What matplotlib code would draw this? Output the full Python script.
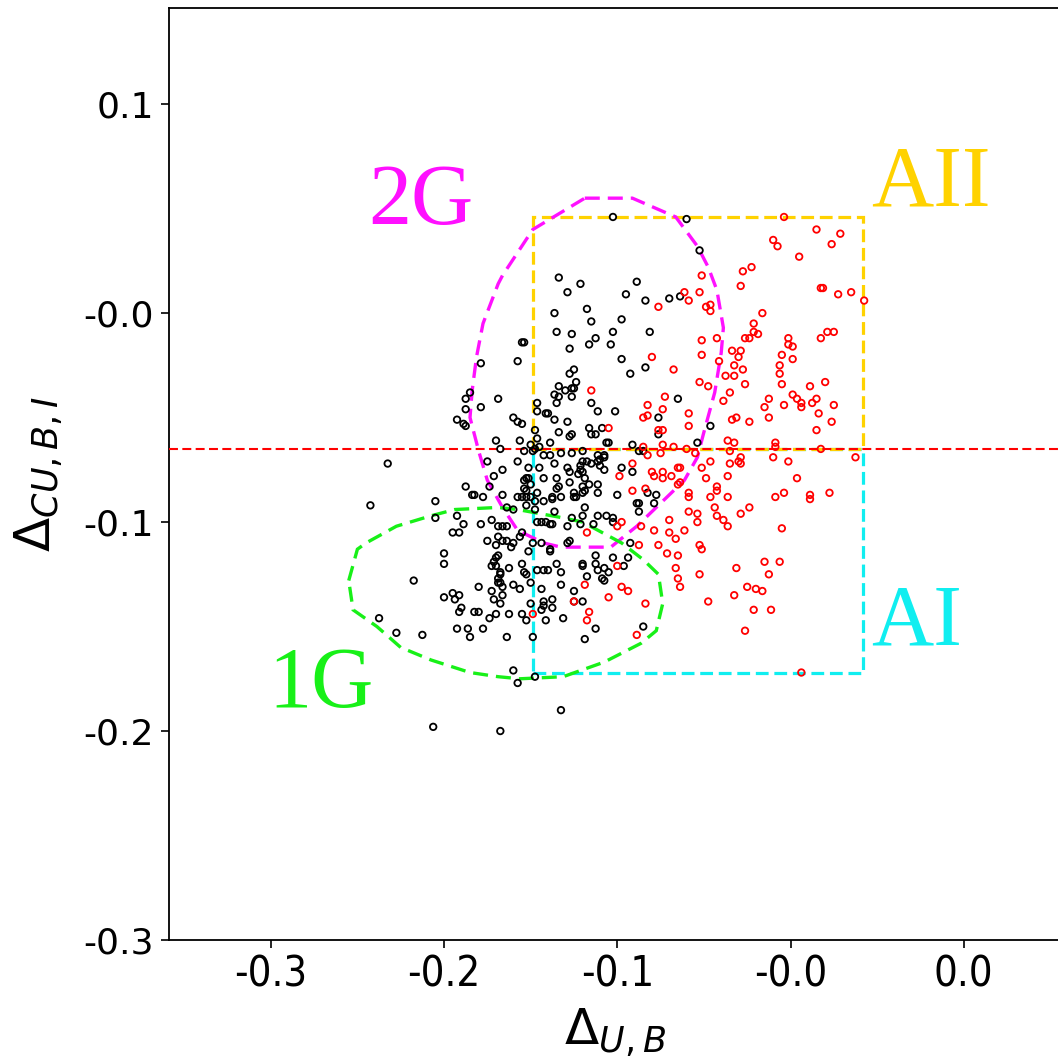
import matplotlib
matplotlib.use("Agg")
import matplotlib.pyplot as plt
from matplotlib.patches import Polygon, Rectangle

# ---- stars: first-generation / unclassified (black) ----
black_pts = [
    (-0.147, 0.017), (-0.137, 0.014), (-0.143, 0.010), (-0.149, 0.000), (-0.134, 0.002),
    (-0.132, -0.004), (-0.148, -0.009), (-0.141, -0.010), (-0.130, -0.012), (-0.133, -0.015),
    (-0.142, -0.017), (-0.164, -0.014), (-0.163, -0.014), (-0.183, -0.024), (-0.166, -0.023),
    (-0.140, -0.027), (-0.142, -0.029), (-0.139, -0.033), (-0.147, -0.035), (-0.122, 0.046),
    (-0.088, 0.045), (-0.082, 0.030), (-0.111, 0.015), (-0.116, 0.009), (-0.107, 0.006),
    (-0.096, 0.007), (-0.091, 0.008), (-0.118, -0.003), (-0.122, -0.009), (-0.105, -0.009),
    (-0.123, -0.015), (-0.118, -0.022), (-0.107, -0.026), (-0.114, -0.029), (-0.140, -0.036),
    (-0.149, -0.039), (-0.147, -0.040), (-0.144, -0.037), (-0.141, -0.040), (-0.157, -0.043),
    (-0.157, -0.047), (-0.188, -0.038), (-0.190, -0.041), (-0.175, -0.041), (-0.183, -0.045),
    (-0.190, -0.046), (-0.194, -0.051), (-0.191, -0.053), (-0.190, -0.054), (-0.168, -0.050),
    (-0.166, -0.052), (-0.164, -0.053), (-0.158, -0.056), (-0.152, -0.048), (-0.149, -0.051),
    (-0.143, -0.052), (-0.133, -0.055), (-0.130, -0.058), (-0.132, -0.058), (-0.147, -0.057),
    (-0.141, -0.058), (-0.125, -0.062), (-0.124, -0.062), (-0.121, -0.047), (-0.113, -0.063),
    (-0.108, -0.066), (-0.101, -0.050), (-0.101, -0.058), (-0.092, -0.041), (-0.077, -0.054),
    (-0.083, -0.062), (-0.176, -0.061), (-0.174, -0.065), (-0.165, -0.061), (-0.157, -0.060),
    (-0.156, -0.064), (-0.159, -0.066), (-0.151, -0.062), (-0.146, -0.067), (-0.154, -0.068),
    (-0.151, -0.068), (-0.226, -0.072), (-0.129, -0.047), (-0.153, -0.048), (-0.132, -0.043),
    (-0.141, -0.067), (-0.136, -0.066), (-0.127, -0.055), (-0.142, -0.059), (-0.129, -0.068),
    (-0.126, -0.068), (-0.126, -0.069), (-0.128, -0.070), (-0.129, -0.071), (-0.128, -0.073),
    (-0.126, -0.075), (-0.132, -0.072), (-0.136, -0.071), (-0.137, -0.073), (-0.118, -0.074),
    (-0.113, -0.076), (-0.143, -0.074), (-0.142, -0.076), (-0.138, -0.077), (-0.137, -0.075),
    (-0.135, -0.079), (-0.133, -0.082), (-0.129, -0.082), (-0.129, -0.086), (-0.142, -0.081),
    (-0.140, -0.086), (-0.139, -0.088), (-0.136, -0.086), (-0.120, -0.087), (-0.135, -0.093),
    (-0.136, -0.097), (-0.129, -0.097), (-0.125, -0.097), (-0.122, -0.098), (-0.122, -0.100),
    (-0.111, -0.091), (-0.110, -0.095), (-0.103, -0.091), (-0.102, -0.087), (-0.110, -0.066),
    (-0.106, -0.086), (-0.110, -0.091), (-0.114, -0.110), (-0.122, -0.117), (-0.115, -0.117),
    (-0.160, -0.063), (-0.163, -0.066), (-0.158, -0.065), (-0.148, -0.043), (-0.141, -0.036),
    (-0.180, -0.071), (-0.166, -0.071), (-0.161, -0.074), (-0.173, -0.075), (-0.156, -0.074),
    (-0.149, -0.072), (-0.134, -0.071), (-0.136, -0.076), (-0.177, -0.078), (-0.190, -0.083),
    (-0.187, -0.087), (-0.186, -0.087), (-0.182, -0.088), (-0.179, -0.083), (-0.173, -0.087),
    (-0.162, -0.079), (-0.163, -0.080), (-0.161, -0.079), (-0.163, -0.084), (-0.162, -0.085),
    (-0.160, -0.082), (-0.154, -0.079), (-0.148, -0.079), (-0.147, -0.083), (-0.148, -0.084),
    (-0.136, -0.083), (-0.140, -0.088), (-0.135, -0.085), (-0.166, -0.088), (-0.164, -0.088),
    (-0.162, -0.088), (-0.160, -0.088), (-0.157, -0.086), (-0.154, -0.090), (-0.150, -0.088),
    (-0.150, -0.089), (-0.146, -0.088), (-0.171, -0.093), (-0.168, -0.094), (-0.162, -0.092),
    (-0.158, -0.090), (-0.158, -0.094), (-0.149, -0.095), (-0.141, -0.098), (-0.157, -0.100),
    (-0.155, -0.100), (-0.153, -0.100), (-0.151, -0.101), (-0.150, -0.101), (-0.143, -0.102),
    (-0.137, -0.101), (-0.131, -0.101), (-0.175, -0.102), (-0.173, -0.102), (-0.171, -0.102),
    (-0.183, -0.101), (-0.178, -0.099), (-0.191, -0.101), (-0.194, -0.097), (-0.204, -0.098),
    (-0.204, -0.090), (-0.196, -0.105), (-0.193, -0.105), (-0.180, -0.109), (-0.175, -0.107),
    (-0.176, -0.111), (-0.173, -0.109), (-0.171, -0.109), (-0.168, -0.110), (-0.169, -0.112),
    (-0.164, -0.105), (-0.165, -0.107), (-0.159, -0.110), (-0.155, -0.110), (-0.151, -0.113),
    (-0.151, -0.114), (-0.161, -0.114), (-0.143, -0.110), (-0.142, -0.109), (-0.130, -0.116),
    (-0.136, -0.120), (-0.200, -0.115), (-0.234, -0.092), (-0.177, -0.119), (-0.176, -0.117),
    (-0.175, -0.116), (-0.200, -0.120), (-0.214, -0.128), (-0.230, -0.146), (-0.222, -0.153),
    (-0.210, -0.154), (-0.194, -0.151), (-0.189, -0.151), (-0.182, -0.151), (-0.188, -0.155),
    (-0.200, -0.136), (-0.196, -0.134), (-0.195, -0.137), (-0.193, -0.135), (-0.192, -0.141),
    (-0.193, -0.143), (-0.186, -0.143), (-0.184, -0.143), (-0.184, -0.131), (-0.179, -0.146),
    (-0.176, -0.144), (-0.178, -0.133), (-0.177, -0.137), (-0.174, -0.139), (-0.173, -0.135),
    (-0.175, -0.129), (-0.174, -0.129), (-0.173, -0.131), (-0.175, -0.127), (-0.178, -0.121),
    (-0.176, -0.121), (-0.174, -0.124), (-0.174, -0.125), (-0.170, -0.122), (-0.168, -0.130),
    (-0.165, -0.132), (-0.170, -0.144), (-0.171, -0.155), (-0.164, -0.144), (-0.162, -0.147),
    (-0.164, -0.120), (-0.163, -0.124), (-0.162, -0.125), (-0.160, -0.129), (-0.160, -0.139),
    (-0.157, -0.123), (-0.154, -0.123), (-0.152, -0.123), (-0.155, -0.132), (-0.154, -0.138),
    (-0.154, -0.140), (-0.155, -0.142), (-0.150, -0.137), (-0.150, -0.141), (-0.153, -0.147),
    (-0.159, -0.155), (-0.148, -0.120), (-0.146, -0.124), (-0.146, -0.130), (-0.145, -0.146),
    (-0.140, -0.133), (-0.140, -0.138), (-0.136, -0.138), (-0.136, -0.121), (-0.134, -0.126),
    (-0.130, -0.120), (-0.129, -0.123), (-0.127, -0.127), (-0.130, -0.151), (-0.135, -0.156),
    (-0.168, -0.171), (-0.166, -0.177), (-0.158, -0.174), (-0.146, -0.190), (-0.205, -0.198),
    (-0.174, -0.200), (-0.126, -0.122), (-0.124, -0.124), (-0.117, -0.121), (-0.126, -0.128),
    (-0.108, -0.150),
]

# ---- stars: anomalous population (red) ----
red_pts = [
    (-0.043, 0.046), (-0.028, 0.040), (-0.017, 0.038), (-0.021, 0.033), (-0.048, 0.035),
    (-0.046, 0.032), (-0.036, 0.027), (-0.062, 0.020), (-0.058, 0.022), (-0.063, 0.013),
    (-0.081, 0.018), (-0.089, 0.010), (-0.087, 0.006), (-0.082, 0.010), (-0.101, 0.003),
    (-0.026, 0.012), (-0.025, 0.012), (-0.018, 0.009), (-0.012, 0.010), (-0.006, 0.006),
    (-0.079, 0.003), (-0.077, 0.004), (-0.077, 0.001), (-0.053, 0.000), (-0.057, -0.005),
    (-0.057, -0.009), (-0.055, -0.010), (-0.074, -0.012), (-0.061, -0.012), (-0.059, -0.012),
    (-0.081, -0.013), (-0.081, -0.020), (-0.041, -0.012), (-0.041, -0.015), (-0.039, -0.016),
    (-0.026, -0.012), (-0.023, -0.009), (-0.020, -0.009), (-0.104, -0.021), (-0.094, -0.027),
    (-0.067, -0.018), (-0.063, -0.018), (-0.064, -0.021), (-0.073, -0.023), (-0.044, -0.020),
    (-0.039, -0.022), (-0.066, -0.025), (-0.062, -0.027), (-0.045, -0.025), (-0.045, -0.029),
    (-0.070, -0.030), (-0.066, -0.030), (-0.082, -0.033), (-0.061, -0.034), (-0.044, -0.034),
    (-0.024, -0.033), (-0.078, -0.035), (-0.068, -0.038), (-0.031, -0.035), (-0.039, -0.039),
    (-0.037, -0.041), (-0.035, -0.043), (-0.035, -0.045), (-0.043, -0.044), (-0.030, -0.043),
    (-0.028, -0.041), (-0.020, -0.044), (-0.027, -0.048), (-0.021, -0.052), (-0.028, -0.056),
    (-0.052, -0.045), (-0.050, -0.041), (-0.050, -0.050), (-0.059, -0.052), (-0.067, -0.051),
    (-0.065, -0.050), (-0.071, -0.042), (-0.098, -0.040), (-0.106, -0.044), (-0.108, -0.050),
    (-0.106, -0.049), (-0.099, -0.046), (-0.087, -0.048), (-0.087, -0.054), (-0.101, -0.056),
    (-0.099, -0.056), (-0.124, -0.055), (-0.132, -0.037), (-0.069, -0.061), (-0.066, -0.062),
    (-0.047, -0.062), (-0.047, -0.064), (-0.026, -0.065), (-0.010, -0.069), (-0.099, -0.063),
    (-0.094, -0.064), (-0.088, -0.065), (-0.108, -0.064), (-0.106, -0.068), (-0.100, -0.067),
    (-0.084, -0.067), (-0.077, -0.071), (-0.068, -0.066), (-0.063, -0.069), (-0.064, -0.071),
    (-0.063, -0.072), (-0.068, -0.072), (-0.048, -0.069), (-0.041, -0.071), (-0.081, -0.074),
    (-0.113, -0.072), (-0.119, -0.078), (-0.104, -0.076), (-0.103, -0.078), (-0.099, -0.076),
    (-0.099, -0.079), (-0.095, -0.078), (-0.092, -0.074), (-0.091, -0.074), (-0.069, -0.078),
    (-0.079, -0.079), (-0.037, -0.079), (-0.113, -0.085), (-0.107, -0.084), (-0.092, -0.082),
    (-0.091, -0.081), (-0.087, -0.086), (-0.087, -0.088), (-0.077, -0.088), (-0.074, -0.083),
    (-0.074, -0.085), (-0.069, -0.088), (-0.047, -0.088), (-0.043, -0.086), (-0.031, -0.087),
    (-0.031, -0.089), (-0.022, -0.086), (-0.075, -0.093), (-0.074, -0.097), (-0.087, -0.095),
    (-0.083, -0.096), (-0.059, -0.093), (-0.063, -0.096), (-0.071, -0.099), (-0.069, -0.102),
    (-0.083, -0.100), (-0.096, -0.099), (-0.044, -0.103), (-0.089, -0.104), (-0.096, -0.105),
    (-0.093, -0.108), (-0.103, -0.104), (-0.110, -0.111), (-0.101, -0.111), (-0.082, -0.111),
    (-0.081, -0.113), (-0.097, -0.115), (-0.092, -0.116), (-0.109, -0.102), (-0.118, -0.100),
    (-0.120, -0.102), (-0.052, -0.119), (-0.045, -0.119), (-0.134, -0.105), (-0.135, -0.130),
    (-0.140, -0.138), (-0.133, -0.143), (-0.134, -0.147), (-0.159, -0.144), (-0.120, -0.121),
    (-0.118, -0.131), (-0.115, -0.133), (-0.124, -0.136), (-0.107, -0.139), (-0.111, -0.154),
    (-0.093, -0.122), (-0.092, -0.127), (-0.091, -0.131), (-0.082, -0.125), (-0.078, -0.138),
    (-0.065, -0.122), (-0.066, -0.135), (-0.060, -0.131), (-0.056, -0.132), (-0.053, -0.133),
    (-0.057, -0.142), (-0.049, -0.142), (-0.061, -0.152), (-0.050, -0.125), (-0.035, -0.172),
]

# ---- region outlines ----
sep_y = -0.065                      # horizontal separator
box_x = (-0.159, -0.0065)           # common x extent of the AI / AII boxes
aii_top = 0.046
ai_bottom = -0.172

g2_contour = [
    (-0.135, 0.055), (-0.113, 0.055), (-0.093, 0.046), (-0.083, 0.032), (-0.078, 0.022),
    (-0.074, 0.011), (-0.071, -0.007), (-0.072, -0.019), (-0.075, -0.038), (-0.080, -0.057),
    (-0.083, -0.069), (-0.089, -0.080), (-0.100, -0.091), (-0.111, -0.102), (-0.123, -0.112),
    (-0.146, -0.112), (-0.154, -0.110), (-0.166, -0.104), (-0.173, -0.093), (-0.180, -0.080),
    (-0.184, -0.066), (-0.188, -0.050), (-0.187, -0.037), (-0.185, -0.021), (-0.182, -0.005),
    (-0.175, 0.014), (-0.173, 0.018), (-0.159, 0.040),
]
g1_contour = [
    (-0.244, -0.128), (-0.240, -0.113), (-0.236, -0.110), (-0.222, -0.102), (-0.206, -0.097),
    (-0.195, -0.094), (-0.175, -0.093), (-0.166, -0.094), (-0.145, -0.098), (-0.136, -0.100),
    (-0.118, -0.110), (-0.108, -0.118), (-0.101, -0.125), (-0.099, -0.139), (-0.102, -0.152),
    (-0.109, -0.158), (-0.126, -0.167), (-0.145, -0.174), (-0.165, -0.175), (-0.175, -0.174),
    (-0.188, -0.172), (-0.206, -0.166), (-0.220, -0.160), (-0.231, -0.150), (-0.242, -0.142),
]

# ---- axes ticks ----
xticks = [-0.28, -0.20, -0.12, -0.04, 0.04]
xticklabels = ['-0.3', '-0.2', '-0.1', '-0.0', '0.0']
yticks = [-0.3, -0.2, -0.1, 0.0, 0.1]
yticklabels = ['-0.3', '-0.2', '-0.1', '-0.0', '0.1']

W, H = 1058, 1059
fig = plt.figure(figsize=(W / 100, H / 100), dpi=100)
ax = fig.add_axes([169 / W, 1 - 940 / H, 1 - 169 / W + 0.002, (940 - 8) / H])
ax.set_xlim(-0.327, 0.0845)
ax.set_ylim(-0.3, 0.146)

bx, by = zip(*black_pts)
rx, ry = zip(*red_pts)
ax.scatter(bx, by, s=22, facecolors='none', edgecolors='black', linewidths=1.3, zorder=5)
ax.scatter(rx, ry, s=22, facecolors='none', edgecolors='red', linewidths=1.3, zorder=5)

dash = (0, (4, 1.8))
ax.add_patch(Rectangle((box_x[0], ai_bottom), box_x[1] - box_x[0], sep_y - ai_bottom,
                       fill=False, edgecolor='#10eef0', lw=2.3, linestyle=dash, zorder=2))
ax.add_patch(Rectangle((box_x[0], sep_y), box_x[1] - box_x[0], aii_top - sep_y,
                       fill=False, edgecolor='#ffd200', lw=2.3, linestyle=dash, zorder=3))
ax.axhline(sep_y, color='red', lw=1.5, linestyle=(0, (4.3, 2.1)), zorder=4)
ax.add_patch(Polygon(g2_contour, closed=True, fill=False, edgecolor='#ff10ff',
                     lw=2.4, linestyle=(0, (4.5, 2.4)), zorder=3))
ax.add_patch(Polygon(g1_contour, closed=True, fill=False, edgecolor='#18f018',
                     lw=2.4, linestyle=(0, (4.5, 2.4)), zorder=3))

serif = 'Liberation Serif'
ax.text(-0.235, 0.0425, '2G', color='#ff10ff', fontsize=62, family=serif, va='baseline')
ax.text(-0.003, 0.0515, 'AII', color='#ffd200', fontsize=62, family=serif, va='baseline')
ax.text(-0.003, -0.1585, 'AI', color='#10eef0', fontsize=62, family=serif, va='baseline')
ax.text(-0.281, -0.1885, '1G', color='#18f018', fontsize=62, family=serif, va='baseline')

ax.set_xticks(xticks, labels=xticklabels)
ax.set_yticks(yticks, labels=yticklabels)
ax.tick_params(axis='both', direction='out', length=6, width=1.2)
ax.tick_params(axis='y', pad=5)
for lab in ax.get_xticklabels():
    lab.set_fontsize(30)
    lab.set_fontstretch('condensed')
for lab in ax.get_yticklabels():
    lab.set_fontsize(26)
for s in ax.spines.values():
    s.set_linewidth(1.3)

ax.set_xlabel(r'$\Delta_{U,B}$', fontsize=36, labelpad=8)
ax.set_ylabel(r'$\Delta_{CU,B,I}$', fontsize=36, labelpad=14)

fig.savefig('out.png', dpi=100)
